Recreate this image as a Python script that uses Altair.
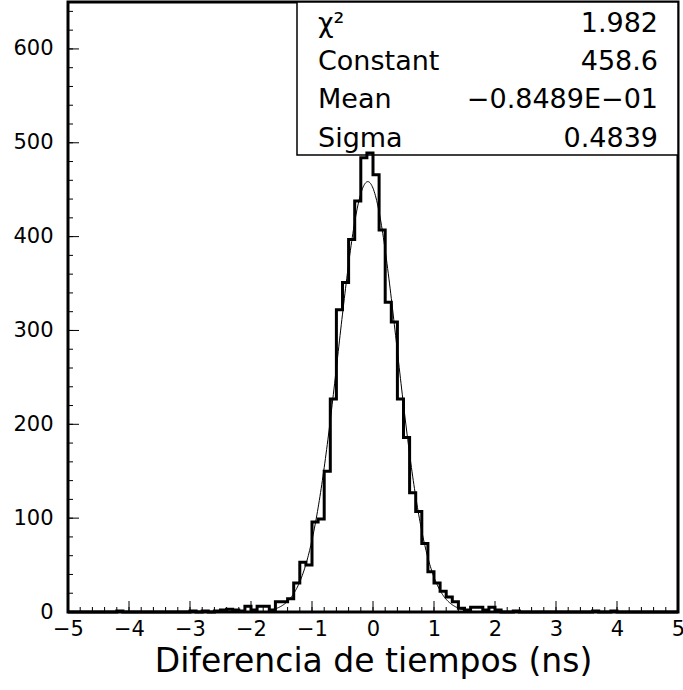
import altair as alt
import pandas as pd

# ---------------- data ----------------
bin_start = -5.0
bin_width = 0.1
counts = [
    0, 0, 0, 0, 0, 0, 0, 0, 1, 0,        # -5.0 .. -4.1
    0, 0, 0, 0, 0, 0, 0, 0, 0, 0,        # -4.0 .. -3.1
    1, 0, 1, 0, 1, 2, 3, 2, 1, 6,        # -3.0 .. -2.1
    2, 6, 6, 2, 11, 11, 14, 31, 53, 50,  # -2.0 .. -1.1
    96, 99, 150, 227, 322, 351, 397, 438, 484, 489,  # -1.0 .. -0.1
    466, 407, 330, 309, 227, 186, 127, 107, 73, 43,  # 0.0 .. 0.9
    31, 22, 16, 11, 4, 2, 5, 5, 2, 5,    # 1.0 .. 1.9
    2, 0, 0, 1, 0, 0, 0, 0, 0, 0,        # 2.0 .. 2.9
    0, 0, 0, 0, 0, 0, 1, 0, 0, 1,        # 3.0 .. 3.9
    0, 0, 0, 0, 0, 0, 0, 0, 0, 0,        # 4.0 .. 4.9
]

fit_constant = 458.6
fit_mean = -0.08489
fit_sigma = 0.4839
fit_range = [-1.7, 1.5]

stat_labels = ["χ²", "Constant", "Mean", "Sigma"]
stat_values = ["1.982", "458.6", "−0.8489E−01", "0.4839"]

x_major = [-5, -4, -3, -2, -1, 0, 1, 2, 3, 4, 5]
x_minor = [round(-5 + 0.2 * i, 1) for i in range(51)]
y_major = [0, 100, 200, 300, 400, 500, 600]
y_minor = list(range(0, 651, 20))

x_title = "Diferencia de tiempos (ns)"

# ---------------- build ----------------
W, H = 610, 610
FONT = "DejaVu Sans"

edges = [round(bin_start + bin_width * i, 2) for i in range(len(counts) + 1)]
hist_df = pd.DataFrame({"x": edges, "y": counts + [counts[-1]]})

x_scale = alt.Scale(domain=[-5, 5], nice=False, zero=False)
y_scale = alt.Scale(domain=[0, 650], nice=False, zero=False)

x_axis = alt.Axis(values=x_major, ticks=False, domain=False, grid=False,
                  labelFont=FONT, labelFontSize=21, labelColor="black",
                  labelPadding=6, labelFlush=False, labelOverlap=False,
                  title=x_title, titleFont=FONT, titleFontSize=33,
                  titleFontWeight="normal", titleColor="black", titlePadding=6)
y_axis = alt.Axis(values=y_major, ticks=False, domain=False, grid=False,
                  labelFont=FONT, labelFontSize=21, labelColor="black",
                  labelPadding=15, labelFlush=False, labelOverlap=False,
                  title=None)


def X(f):
    return alt.X(f, type="quantitative", scale=x_scale, axis=x_axis)


def Y(f):
    return alt.Y(f, type="quantitative", scale=y_scale, axis=y_axis)


box = alt.Chart(pd.DataFrame({"a": [0]})).mark_rect(
    fill="white", stroke="black", strokeWidth=1.5
).encode(x=alt.value(229), x2=alt.value(W), y=alt.value(0), y2=alt.value(153))

hist = alt.Chart(hist_df).mark_line(
    interpolate="step-after", color="black", strokeWidth=3
).encode(x=X("x"), y=Y("y"))

fit = alt.Chart(
    alt.sequence(start=fit_range[0], stop=fit_range[1] + 0.005, step=0.01, as_="x")
).transform_calculate(
    y=f"{fit_constant} * exp(-0.5 * pow((datum.x - ({fit_mean})) / {fit_sigma}, 2))"
).mark_line(color="black", strokeWidth=1).encode(x=X("x"), y=Y("y"))

xt_major = alt.Chart(pd.DataFrame({"x": x_major})).mark_rule(
    color="black", strokeWidth=1
).encode(x=X("x"), y=alt.value(H), y2=alt.value(H - 11))
xt_minor = alt.Chart(pd.DataFrame({"x": x_minor})).mark_rule(
    color="black", strokeWidth=1
).encode(x=X("x"), y=alt.value(H), y2=alt.value(H - 5))
yt_major = alt.Chart(pd.DataFrame({"y": y_major})).mark_rule(
    color="black", strokeWidth=1
).encode(y=Y("y"), x=alt.value(0), x2=alt.value(11))
yt_minor = alt.Chart(pd.DataFrame({"y": y_minor})).mark_rule(
    color="black", strokeWidth=1
).encode(y=Y("y"), x=alt.value(0), x2=alt.value(5))

row_y = [22, 60, 98, 137]
texts = []
for lab, val, yy in zip(stat_labels, stat_values, row_y):
    texts.append(alt.Chart(pd.DataFrame({"t": [lab]})).mark_text(
        align="left", baseline="middle", font=FONT, fontSize=27, color="black"
    ).encode(text="t:N", x=alt.value(250), y=alt.value(yy)))
    texts.append(alt.Chart(pd.DataFrame({"t": [val]})).mark_text(
        align="right", baseline="middle", font=FONT, fontSize=27, color="black"
    ).encode(text="t:N", x=alt.value(590), y=alt.value(yy)))

chart = alt.layer(box, hist, fit, xt_major, xt_minor, yt_major, yt_minor, *texts).properties(
    width=W, height=H,
    autosize="none",
    padding={"left": 68, "top": 2, "right": 5, "bottom": 78},
    background="white",
).configure_view(stroke="black", strokeWidth=3)

chart.save("out.html", embed_options={"renderer": "svg", "actions": False})
